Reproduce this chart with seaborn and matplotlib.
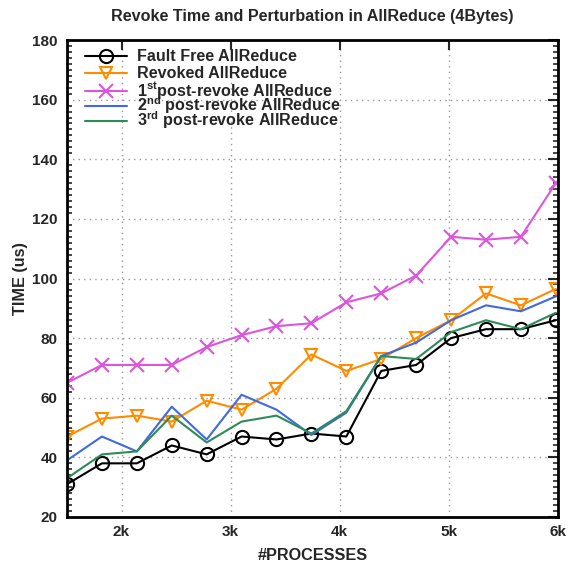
import matplotlib
matplotlib.use("Agg")
import matplotlib.pyplot as plt
import seaborn as sns
import pandas as pd
from matplotlib.ticker import MultipleLocator, FuncFormatter

processes = [1500, 1820, 2140, 2460, 2780, 3100, 3420, 3740, 4060, 4380, 4700, 5020, 5340, 5660, 5980]
fault_free = [31, 38, 38, 44, 41, 47, 46, 48, 47, 69, 71, 80, 83, 83, 86]
revoked = [47, 53, 54, 52, 59, 56, 63, 74.5, 69, 73, 80, 86, 95, 91, 96.5]
post1 = [65, 71, 71, 71, 77, 81, 84, 85, 92, 95, 101, 114, 113, 114, 132]
post2 = [39, 47, 42, 57, 46, 61, 56, 47.5, 55, 74, 78.5, 86, 91, 89, 94]
post3 = [33, 41, 42, 54, 45, 52, 54, 48, 55.5, 74, 73, 82, 86, 83, 88.5]

labels = ["Fault Free AllReduce", "Revoked AllReduce",
          r"1$^{\rm st}$post-revoke AllReduce",
          r"2$^{\rm nd}$ post-revoke AllReduce",
          r"3$^{\rm rd}$ post-revoke AllReduce"]
colors = ["black", "#ff8c00", "#dd55dd", "#4169e1", "#2e8b57"]
markers = ["o", "v", "x", None, None]
msizes = [9.5, 9, 9.5, 0, 0]

sns.set_theme(style="white")
plt.rcParams["font.family"] = ["Liberation Sans", "DejaVu Sans"]
plt.rcParams["font.weight"] = "bold"
plt.rcParams["mathtext.fontset"] = "custom"
plt.rcParams["mathtext.rm"] = "Liberation Sans:bold"
plt.rcParams["mathtext.bf"] = "Liberation Sans:bold"

W, H = 578, 562
L, R, T, B = 67, 558, 40, 517
fig = plt.figure(figsize=(W / 100, H / 100), dpi=100)
ax = fig.add_axes([L / W, (H - B) / H, (R - L) / W, (B - T) / H])

series = [fault_free, revoked, post1, post2, post3]
for vals, lab, col, mk, ms in zip(series, labels, colors, markers, msizes):
    df = pd.DataFrame({"x": processes, "y": vals})
    kw = dict(color=col, linewidth=1.5, ax=ax, legend=False)
    if mk is not None:
        kw.update(marker=mk, markersize=ms, markerfacecolor="none",
                  markeredgecolor=col, markeredgewidth=1.5)
    sns.lineplot(data=df, x="x", y="y", **kw)

ax.set_xlim(1500, 6000)
ax.set_ylim(20, 180)
ax.xaxis.set_major_locator(MultipleLocator(1000))
ax.xaxis.set_major_formatter(FuncFormatter(lambda v, p: f"{int(v/1000)}k"))
ax.yaxis.set_major_locator(MultipleLocator(20))
ax.yaxis.set_minor_locator(MultipleLocator(2))
ax.tick_params(axis="both", which="major", direction="in", length=7, width=1.5,
               top=True, right=True, labelsize=11)
ax.tick_params(axis="x", which="major", pad=5.5)
ax.tick_params(axis="y", which="major", pad=7)
ax.tick_params(axis="y", which="minor", direction="in", length=3.5, width=1.2,
               left=True, right=True)
for lbl in ax.get_xticklabels() + ax.get_yticklabels():
    lbl.set_fontweight("bold")
ax.grid(True, which="major", linestyle=(0, (1, 3)), color="#999999", linewidth=1)
for s in ax.spines.values():
    s.set_linewidth(2)
    s.set_color("black")

ax.set_xlabel("#PROCESSES", fontsize=11.7, fontweight="bold", labelpad=7)
ax.set_ylabel("TIME (us)", fontsize=11.7, fontweight="bold", labelpad=3)
ax.set_title("Revoke Time and Perturbation in AllReduce (4Bytes)", fontsize=11.6,
             fontweight="bold", pad=13.5)

# manual legend (key lines in axes coordinates)
def fx(px):
    return (px - L) / (R - L)

def fy(py):
    return (B - py) / (B - T)

rows = [56, 73, 91, 106, 121]
for lab, col, mk, ms, py in zip(labels, colors, markers, msizes, rows):
    ax.plot([fx(85), fx(127)], [fy(py), fy(py)], color=col, linewidth=1.5,
            transform=ax.transAxes, clip_on=False)
    if mk is not None:
        ax.plot([fx(106)], [fy(py)], marker=mk, markersize=ms, markerfacecolor="none",
                markeredgecolor=col, markeredgewidth=1.5, linestyle="none",
                transform=ax.transAxes, clip_on=False)
    ax.text(fx(137), fy(py + 5), lab, transform=ax.transAxes, fontsize=11.6,
            fontweight="bold", va="baseline", ha="left")

fig.savefig("out.png", dpi=100)
